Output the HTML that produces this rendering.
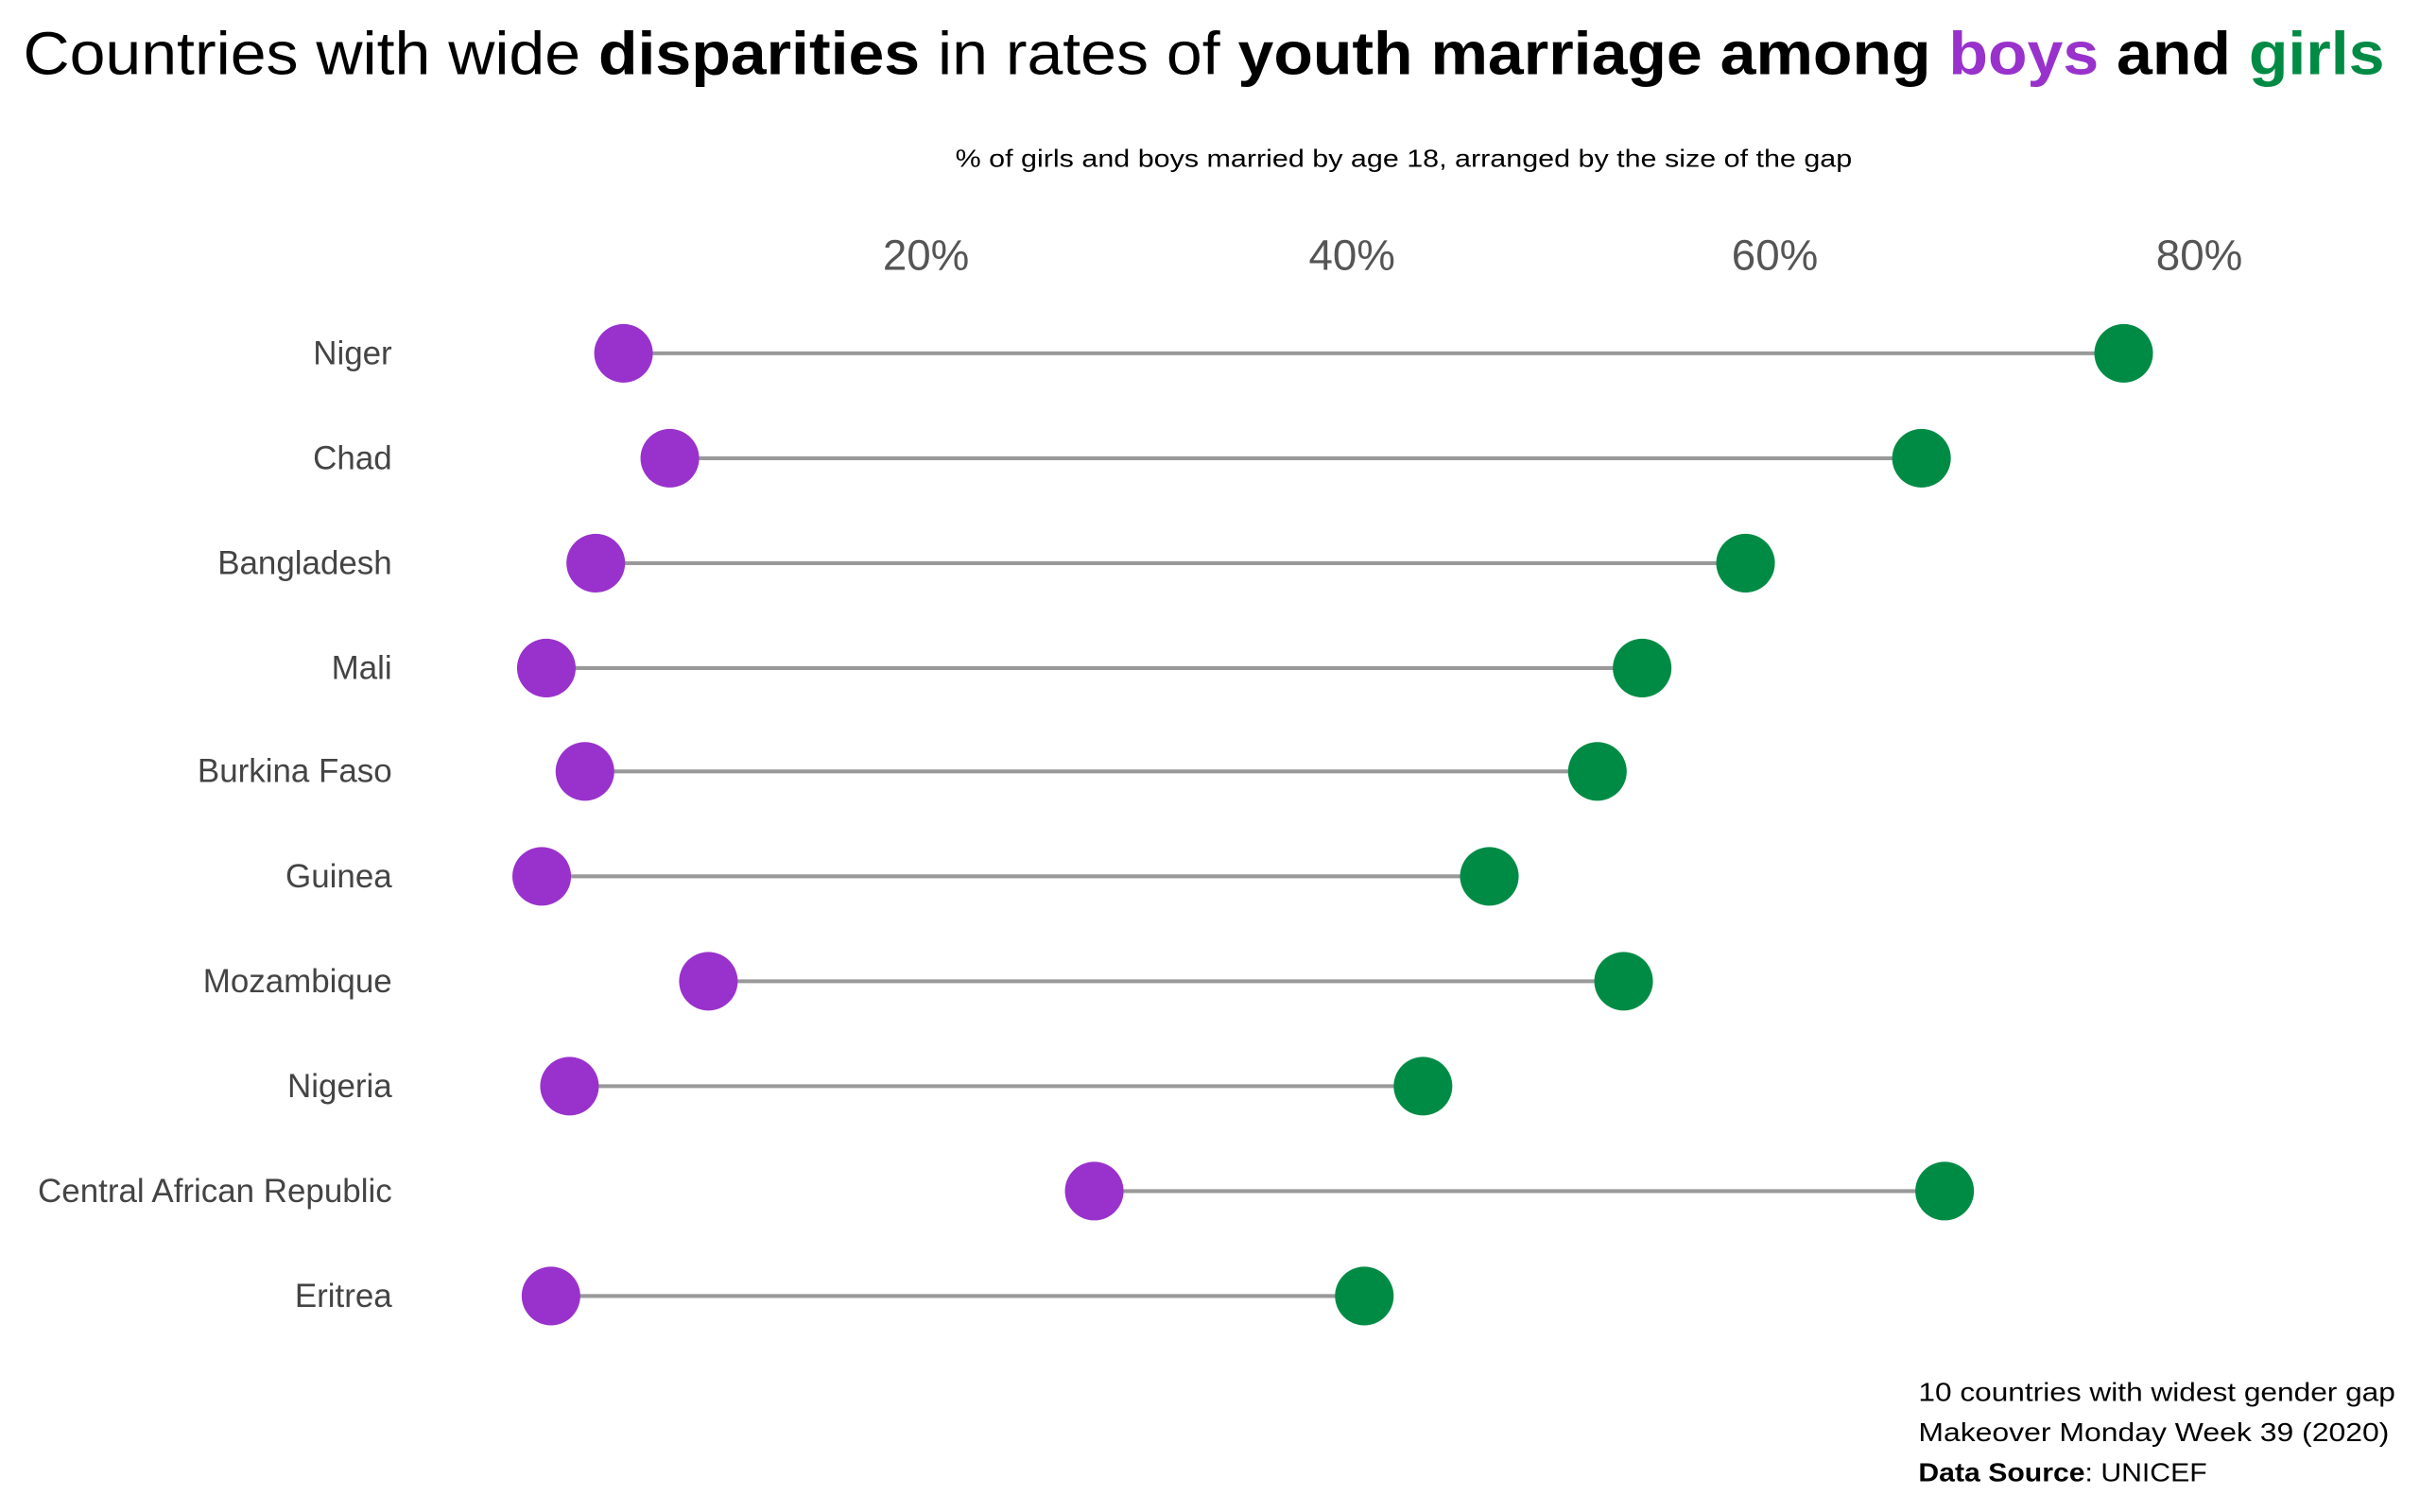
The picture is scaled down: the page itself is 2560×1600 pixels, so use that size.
<!DOCTYPE html>
<html><head><meta charset="utf-8"><style>html,body{margin:0;padding:0;background:#fff}svg{display:block}</style></head>
<body>
<svg width="2560" height="1600" viewBox="0 0 1568 980" xmlns="http://www.w3.org/2000/svg" font-family="Liberation Sans, sans-serif">
<rect width="1568" height="980" fill="#fff"/>
<text x="15" y="48" font-size="39" fill="#000" textLength="1530" lengthAdjust="spacingAndGlyphs">Countries with wide <tspan font-weight="bold">disparities</tspan> in rates of <tspan font-weight="bold">youth marriage among</tspan> <tspan font-weight="bold" fill="#9932CC">boys</tspan> <tspan font-weight="bold">and</tspan> <tspan font-weight="bold" fill="#008B45">girls</tspan></text>
<text x="619" y="108" font-size="16" fill="#000" textLength="581" lengthAdjust="spacingAndGlyphs">% of girls and boys married by age 18, arranged by the size of the gap</text>
<g font-size="28" fill="#555" text-anchor="middle">
<text x="600" y="175">20%</text><text x="876" y="175">40%</text><text x="1150" y="175">60%</text><text x="1425" y="175">80%</text>
</g>
<g font-size="21.4" fill="#444" text-anchor="end">
<text x="254" y="236">Niger</text>
<text x="254" y="304">Chad</text>
<text x="254" y="372">Bangladesh</text>
<text x="254" y="440">Mali</text>
<text x="254" y="507">Burkina Faso</text>
<text x="254" y="575">Guinea</text>
<text x="254" y="643">Mozambique</text>
<text x="254" y="711">Nigeria</text>
<text x="254" y="779">Central African Republic</text>
<text x="254" y="847">Eritrea</text>
</g>
<g stroke="#999" stroke-width="2.5">
<line x1="404" y1="229" x2="1376" y2="229"/>
<line x1="434" y1="297" x2="1245" y2="297"/>
<line x1="386" y1="365" x2="1131" y2="365"/>
<line x1="354" y1="433" x2="1064" y2="433"/>
<line x1="379" y1="500" x2="1035" y2="500"/>
<line x1="351" y1="568" x2="965" y2="568"/>
<line x1="459" y1="636" x2="1052" y2="636"/>
<line x1="369" y1="704" x2="922" y2="704"/>
<line x1="709" y1="772" x2="1260" y2="772"/>
<line x1="357" y1="840" x2="884" y2="840"/>
</g>
<g fill="#9932CC">
<circle cx="404" cy="229" r="19"/><circle cx="434" cy="297" r="19"/><circle cx="386" cy="365" r="19"/><circle cx="354" cy="433" r="19"/><circle cx="379" cy="500" r="19"/><circle cx="351" cy="568" r="19"/><circle cx="459" cy="636" r="19"/><circle cx="369" cy="704" r="19"/><circle cx="709" cy="772" r="19"/><circle cx="357" cy="840" r="19"/>
</g>
<g fill="#008B45">
<circle cx="1376" cy="229" r="19"/><circle cx="1245" cy="297" r="19"/><circle cx="1131" cy="365" r="19"/><circle cx="1064" cy="433" r="19"/><circle cx="1035" cy="500" r="19"/><circle cx="965" cy="568" r="19"/><circle cx="1052" cy="636" r="19"/><circle cx="922" cy="704" r="19"/><circle cx="1260" cy="772" r="19"/><circle cx="884" cy="840" r="19"/>
</g>
<g font-size="17" fill="#000">
<text x="1243" y="908" textLength="309" lengthAdjust="spacingAndGlyphs">10 countries with widest gender gap</text>
<text x="1243" y="934" textLength="305" lengthAdjust="spacingAndGlyphs">Makeover Monday Week 39 (2020)</text>
<text x="1243" y="960" textLength="187" lengthAdjust="spacingAndGlyphs"><tspan font-weight="bold">Data Source</tspan>: UNICEF</text>
</g>
</svg>
</body></html>
